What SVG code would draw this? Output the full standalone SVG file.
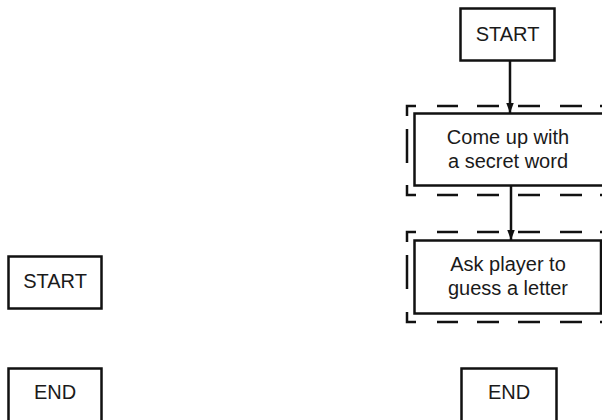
<svg xmlns="http://www.w3.org/2000/svg" width="602" height="420" viewBox="0 0 602 420">
<style>
.box{fill:#fff;stroke:#111;stroke-width:2.5}
.dash{fill:none;stroke:#111;stroke-width:2.5}
.lbl{font-family:"Liberation Sans",Arial,sans-serif;font-size:20px;fill:#1a1a1a;text-anchor:middle}
.conn{stroke:#111;stroke-width:2.5;fill:none}
</style>
<defs>
<marker id="ah" markerUnits="userSpaceOnUse" markerWidth="10" markerHeight="14" refX="12" refY="4.5" orient="auto" viewBox="0 0 12 9">
<path d="M0,0 L12,4.5 L0,9 Z" fill="#111"/>
</marker>
</defs>
<rect width="602" height="420" fill="#fff"/>
<g id="start-left">
<rect class="box" x="8.5" y="256.5" width="93" height="52"/>
<text class="lbl" x="55" y="288">START</text>
</g>
<g id="end-left">
<rect class="box" x="8.5" y="368.5" width="93" height="60"/>
<text class="lbl" x="55" y="399">END</text>
</g>
<g id="start-right">
<rect class="box" x="460.5" y="8.5" width="94" height="52"/>
<text class="lbl" x="507.5" y="41">START</text>
</g>
<g id="end-right">
<rect class="box" x="461.5" y="368.5" width="95" height="60"/>
<text class="lbl" x="509" y="399">END</text>
</g>
<g id="secret-word">
<path class="dash" d="M407,116 V106 H416 M437,106 H458 M477,106 H499 M518,106 H540 M560,106 H582 M600,106 H604 M407,129 V163 M407,185 V195 H416 M437,195 H458 M477,195 H499 M518,195 H540 M560,195 H582 M600,195 H604"/>
<rect class="box" x="414.5" y="113.5" width="190" height="72"/>
<text class="lbl" x="508" y="144">Come up with</text>
<text class="lbl" x="508" y="168">a secret word</text>
</g>
<g id="ask-letter">
<path class="dash" d="M407,242 V232 H416 M437,232 H458 M477,232 H499 M518,232 H540 M560,232 H582 M600,232 H604 M407,255 V289 M407,312 V322 H416 M437,322 H458 M477,322 H499 M518,322 H540 M560,322 H582 M600,322 H604"/>
<rect class="box" x="414.5" y="240.5" width="186.5" height="73"/>
<text class="lbl" x="508" y="271">Ask player to</text>
<text class="lbl" x="508" y="295">guess a letter</text>
</g>
<g id="connectors">
<line class="conn" x1="510" y1="61" x2="510" y2="113" marker-end="url(#ah)"/>
<line class="conn" x1="511" y1="186" x2="511" y2="240" marker-end="url(#ah)"/>
</g>
</svg>
